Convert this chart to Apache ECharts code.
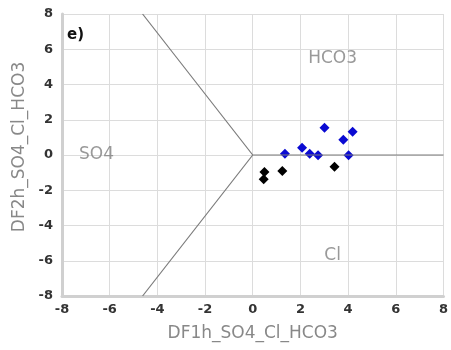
<!DOCTYPE html>
<html>
<head>
<meta charset="utf-8">
<script src="https://cdn.jsdelivr.net/npm/echarts@6/dist/echarts.min.js"></script>
<style>html,body{margin:0;padding:0;background:#fff}#c{width:451px;height:350px}</style>
</head>
<body>
<div id="c"></div>
<script>
var xTicks = [-8, -6, -4, -2, 0, 2, 4, 6, 8];
var yTicks = [-8, -6, -4, -2, 0, 2, 4, 6, 8];
var blueX = [1.35, 2.07, 2.39, 2.74, 3.01, 3.80, 4.19, 4.02];
var blueY = [0.07, 0.41, 0.07, -0.02, 1.55, 0.87, 1.32, -0.02];
var blackX = [0.49, 0.46, 1.24, 3.43];
var blackY = [-0.97, -1.38, -0.91, -0.66];
var boundaryUpper = [[0, 0], [-4.62, 8]];
var boundaryLower = [[0, 0], [-4.62, -8]];
var boundaryRight = [[0, 0], [8, 0]];
var regionNames = ['HCO3', 'SO4', 'Cl'];
var regionX = [3.35, -6.55, 3.35];
var regionY = [5.45, 0, -5.68];
var xTitle = 'DF1h_SO4_Cl_HCO3';
var yTitle = 'DF2h_SO4_Cl_HCO3';
var panelLabel = 'e)';

function zip(a, b) { return a.map(function (v, i) { return [v, b[i]]; }); }

var chart = echarts.init(document.getElementById('c'));
var font = 'DejaVu Sans';
var lineStyleB = { color: '#7a7a7a', width: 1.2 };
chart.setOption({
  animation: false,
  grid: { left: 62, right: 4, top: 14, bottom: 54 },
  xAxis: {
    type: 'value', min: xTicks[0], max: xTicks[xTicks.length - 1], interval: 2,
    name: xTitle, nameLocation: 'middle', nameGap: 29,
    nameTextStyle: { color: '#888', fontSize: 17, fontFamily: font },
    axisLine: { show: true, onZero: false, lineStyle: { color: '#d0d0d0', width: 3 } },
    axisTick: { show: false },
    axisLabel: { color: '#333', fontWeight: 'bold', fontSize: 13, fontFamily: font, margin: 7 },
    splitLine: { show: true, lineStyle: { color: '#dcdcdc', width: 1 } }
  },
  yAxis: {
    type: 'value', min: yTicks[0], max: yTicks[yTicks.length - 1], interval: 2,
    name: yTitle, nameLocation: 'middle', nameGap: 34,
    nameTextStyle: { color: '#888', fontSize: 17, fontFamily: font, padding: [0, 0, 0, 16] },
    axisLine: { show: true, onZero: false, lineStyle: { color: '#d0d0d0', width: 3 } },
    axisTick: { show: false },
    axisLabel: { color: '#333', fontWeight: 'bold', fontSize: 13, fontFamily: font, margin: 9 },
    splitLine: { show: true, lineStyle: { color: '#dcdcdc', width: 1 } }
  },
  graphic: [{
    type: 'text', left: 67, top: 28,
    style: { text: panelLabel, font: 'bold 15px "DejaVu Sans"', fill: '#111' }
  }],
  series: [
    { type: 'line', data: boundaryUpper, symbol: 'none', lineStyle: lineStyleB, silent: true },
    { type: 'line', data: boundaryLower, symbol: 'none', lineStyle: lineStyleB, silent: true },
    { type: 'line', data: boundaryRight, symbol: 'none', lineStyle: lineStyleB, silent: true },
    {
      type: 'scatter', data: regionNames.map(function (n, i) { return { name: n, value: [regionX[i], regionY[i]] }; }),
      symbolSize: 0,
      label: { show: true, position: 'inside', formatter: '{b}', color: '#808080', fontSize: 17, fontFamily: font }
    },
    { type: 'scatter', data: zip(blueX, blueY), symbol: 'diamond', symbolSize: 10, itemStyle: { color: '#0a0ad2', opacity: 1 } },
    { type: 'scatter', data: zip(blackX, blackY), symbol: 'diamond', symbolSize: 10, itemStyle: { color: '#000', opacity: 1 } }
  ]
});
</script>
</body>
</html>
